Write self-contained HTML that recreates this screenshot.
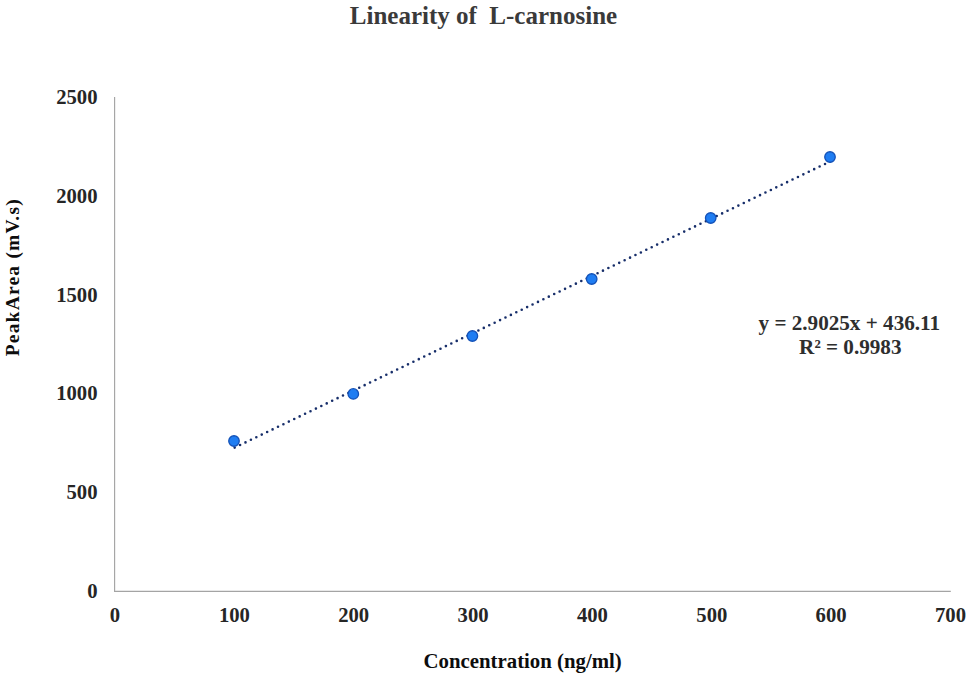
<!DOCTYPE html>
<html><head><meta charset="utf-8"><style>
html,body{margin:0;padding:0;background:#fff;width:973px;height:681px;overflow:hidden}
svg{display:block}
text{font-family:"Liberation Serif",serif;font-weight:bold}
</style></head><body>
<svg width="973" height="681" viewBox="0 0 973 681">
<rect width="973" height="681" fill="#fff"/>
<text x="349.8" y="23.7" font-size="25" fill="#3a3a3a" xml:space="preserve" style="white-space:pre">Linearity of  L-carnosine</text>
<g stroke="#a4a4a4" stroke-width="1.15" fill="none">
<line x1="114.6" y1="97" x2="114.6" y2="591.5"/>
<line x1="114" y1="591.4" x2="950.8" y2="591.4"/>
</g>
<g font-size="20.67" fill="#262626"><text x="97.5" y="597.9" text-anchor="end">0</text><text x="97.5" y="499.1" text-anchor="end">500</text><text x="97.5" y="400.3" text-anchor="end">1000</text><text x="97.5" y="301.5" text-anchor="end">1500</text><text x="97.5" y="202.7" text-anchor="end">2000</text><text x="97.5" y="103.9" text-anchor="end">2500</text><text x="115.0" y="622" text-anchor="middle">0</text><text x="234.4" y="622" text-anchor="middle">100</text><text x="353.7" y="622" text-anchor="middle">200</text><text x="473.1" y="622" text-anchor="middle">300</text><text x="592.4" y="622" text-anchor="middle">400</text><text x="711.8" y="622" text-anchor="middle">500</text><text x="831.1" y="622" text-anchor="middle">600</text><text x="950.5" y="622" text-anchor="middle">700</text></g>
<text x="423.6" y="667.8" font-size="20.8" fill="#0d0d0d">Concentration (ng/ml)</text>
<text transform="translate(19.4,356.3) rotate(-90)" font-size="19.5" fill="#0d0d0d" textLength="157" lengthAdjust="spacing">PeakArea (mV.s)</text>
<g font-size="21.15" fill="#2e2e2e" text-anchor="middle">
<text x="849.3" y="329.7">y = 2.9025x + 436.11</text>
<text x="850.3" y="353.8">R² = 0.9983</text>
</g>
<line x1="234.36" y1="447.77" x2="831.14" y2="161.00" stroke="#172e6a" stroke-width="2.6" stroke-linecap="round" stroke-dasharray="0 6.009" stroke-dashoffset="-0.34"/>
<g fill="#1f7df2" stroke="#1452b8" stroke-width="1.3"><circle cx="234.0" cy="441.0" r="5.25"/><circle cx="353.3" cy="393.9" r="5.25"/><circle cx="472.4" cy="336.0" r="5.25"/><circle cx="591.7" cy="279.0" r="5.25"/><circle cx="710.7" cy="218.0" r="5.25"/><circle cx="830.0" cy="157.0" r="5.25"/></g>
</svg>
</body></html>
